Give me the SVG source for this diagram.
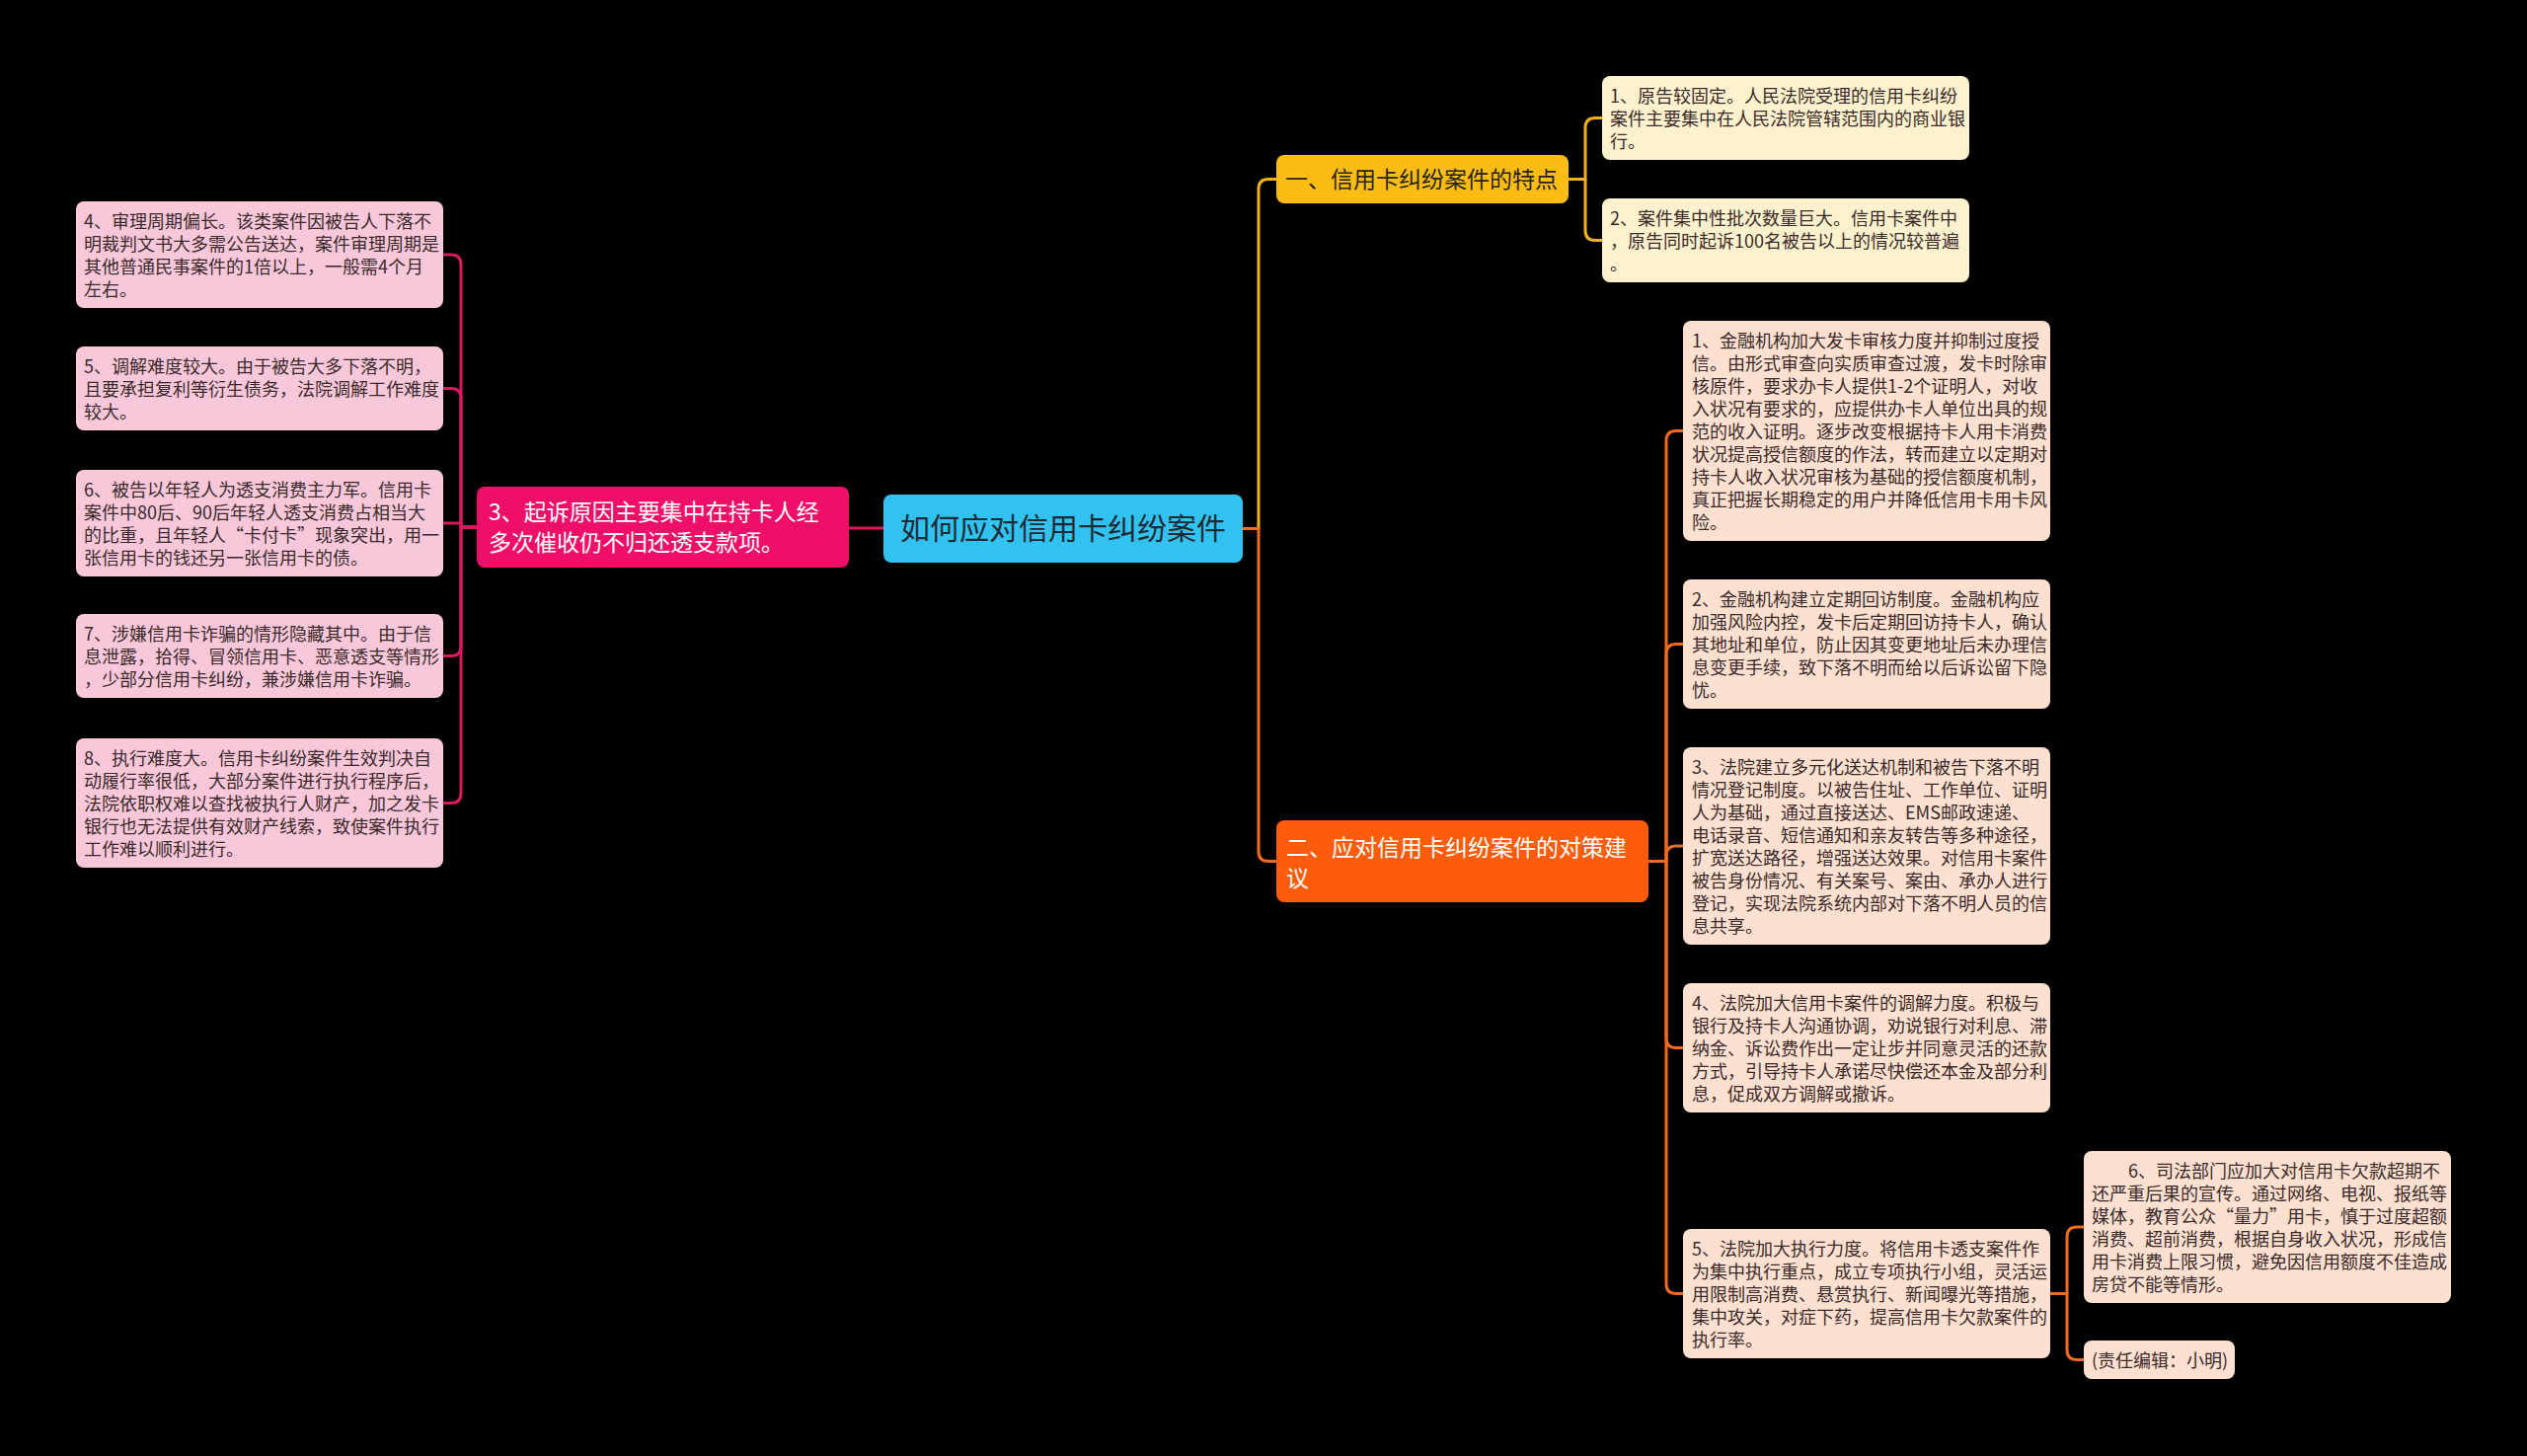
<svg xmlns="http://www.w3.org/2000/svg" width="2560" height="1475" viewBox="0 0 2560 1475">
<style>
.t{font-family:"Noto Sans CJK SC","Noto Sans",sans-serif;font-size:18px;fill:#3a2a2a}
.b{font-family:"Noto Sans CJK SC","Noto Sans",sans-serif;font-size:23px}
.c{fill:none;stroke-width:3;stroke-linecap:round;stroke-linejoin:round}
.cm{stroke:#d8185f}.cy{stroke:#f0b21a}.co{stroke:#f06a20}
.pink{fill:#f9c7da}.cream{fill:#fdf2cd}.peach{fill:#fde0cf}
</style>
<rect x="0" y="0" width="2560" height="1475" fill="#000"/>
<g id="connectors">
<path class="c cm" d="M895,535 H860"/>
<path class="c cm" d="M483,534 H467 V268 Q467,258 457,258 H449"/>
<path class="c cm" d="M483,534 H467 V403.5 Q467,393.5 457,393.5 H449"/>
<path class="c cm" d="M483,534 H467 V530 H449"/>
<path class="c cm" d="M483,534 H467 V654.5 Q467,664.5 457,664.5 H449"/>
<path class="c cm" d="M483,534 H467 V803.5 Q467,813.5 457,813.5 H449"/>
<path class="c cy" d="M1259,535.5 H1275 V191.5 Q1275,181.5 1285,181.5 H1293"/>
<path class="c co" d="M1259,535.5 H1275 V862.5 Q1275,872.5 1285,872.5 H1293"/>
<path class="c cy" d="M1589,181.5 H1606 V129.5 Q1606,119.5 1616,119.5 H1623"/>
<path class="c cy" d="M1589,181.5 H1606 V233.5 Q1606,243.5 1616,243.5 H1623"/>
<path class="c co" d="M1670,872.5 H1688 V446.5 Q1688,436.5 1698,436.5 H1705"/>
<path class="c co" d="M1670,872.5 H1688 V662.5 Q1688,652.5 1698,652.5 H1705"/>
<path class="c co" d="M1670,872.5 H1688 V867 Q1688,857 1698,857 H1705"/>
<path class="c co" d="M1670,872.5 H1688 V1051.5 Q1688,1061.5 1698,1061.5 H1705"/>
<path class="c co" d="M1670,872.5 H1688 V1300.5 Q1688,1310.5 1698,1310.5 H1705"/>
<path class="c co" d="M2077,1310.5 H2094 V1253 Q2094,1243 2104,1243 H2111"/>
<path class="c co" d="M2077,1310.5 H2094 V1367.5 Q2094,1377.5 2104,1377.5 H2111"/>
</g>
<g id="center">
<rect x="895" y="501" width="364" height="69" rx="8" fill="#31c2f0"/>
<text class="b" x="1077" y="546" text-anchor="middle" style="font-size:30px" fill="#1e2a35">如何应对信用卡纠纷案件</text>
</g>
<g id="n3">
<rect x="483" y="493" width="377" height="82" rx="8" fill="#ef0f68"/>
<text class="b" fill="#fff"><tspan x="495" y="527">3、起诉原因主要集中在持卡人经</tspan><tspan x="495" y="558">多次催收仍不归还透支款项。</tspan></text>
</g>
<g id="n4">
<rect class="pink" x="77" y="204" width="372" height="108" rx="8"/>
<text class="t"><tspan x="85" y="231">4、审理周期偏长。该类案件因被告人下落不</tspan><tspan x="85" y="254">明裁判文书大多需公告送达，案件审理周期是</tspan><tspan x="85" y="277">其他普通民事案件的1倍以上，一般需4个月</tspan><tspan x="85" y="300">左右。</tspan></text>
</g>
<g id="n5">
<rect class="pink" x="77" y="351" width="372" height="85" rx="8"/>
<text class="t"><tspan x="85" y="378">5、调解难度较大。由于被告大多下落不明，</tspan><tspan x="85" y="401">且要承担复利等衍生债务，法院调解工作难度</tspan><tspan x="85" y="424">较大。</tspan></text>
</g>
<g id="n6">
<rect class="pink" x="77" y="476" width="372" height="108" rx="8"/>
<text class="t"><tspan x="85" y="503">6、被告以年轻人为透支消费主力军。信用卡</tspan><tspan x="85" y="526">案件中80后、90后年轻人透支消费占相当大</tspan><tspan x="85" y="549">的比重，且年轻人“卡付卡”现象突出，用一</tspan><tspan x="85" y="572">张信用卡的钱还另一张信用卡的债。</tspan></text>
</g>
<g id="n7">
<rect class="pink" x="77" y="622" width="372" height="85" rx="8"/>
<text class="t"><tspan x="85" y="649">7、涉嫌信用卡诈骗的情形隐藏其中。由于信</tspan><tspan x="85" y="672">息泄露，拾得、冒领信用卡、恶意透支等情形</tspan><tspan x="85" y="695">，少部分信用卡纠纷，兼涉嫌信用卡诈骗。</tspan></text>
</g>
<g id="n8">
<rect class="pink" x="77" y="748" width="372" height="131" rx="8"/>
<text class="t"><tspan x="85" y="775">8、执行难度大。信用卡纠纷案件生效判决自</tspan><tspan x="85" y="798">动履行率很低，大部分案件进行执行程序后，</tspan><tspan x="85" y="821">法院依职权难以查找被执行人财产，加之发卡</tspan><tspan x="85" y="844">银行也无法提供有效财产线索，致使案件执行</tspan><tspan x="85" y="867">工作难以顺利进行。</tspan></text>
</g>
<g id="yellow">
<rect x="1293" y="157" width="296" height="49" rx="8" fill="#fbbd14"/>
<text class="b" x="1302" y="190" fill="#2a2418">一、信用卡纠纷案件的特点</text>
</g>
<g id="y1">
<rect class="cream" x="1623" y="77" width="372" height="85" rx="8"/>
<text class="t"><tspan x="1631" y="104">1、原告较固定。人民法院受理的信用卡纠纷</tspan><tspan x="1631" y="127">案件主要集中在人民法院管辖范围内的商业银</tspan><tspan x="1631" y="150">行。</tspan></text>
</g>
<g id="y2">
<rect class="cream" x="1623" y="201" width="372" height="85" rx="8"/>
<text class="t"><tspan x="1631" y="228">2、案件集中性批次数量巨大。信用卡案件中</tspan><tspan x="1631" y="251">，原告同时起诉100名被告以上的情况较普遍</tspan><tspan x="1631" y="274">。</tspan></text>
</g>
<g id="orange">
<rect x="1293" y="831" width="377" height="83" rx="8" fill="#fc5c0b"/>
<text class="b" fill="#fff"><tspan x="1303" y="867">二、应对信用卡纠纷案件的对策建</tspan><tspan x="1303" y="898">议</tspan></text>
</g>
<g id="r1">
<rect class="peach" x="1705" y="325" width="372" height="223" rx="8"/>
<text class="t"><tspan x="1714" y="352">1、金融机构加大发卡审核力度并抑制过度授</tspan><tspan x="1714" y="375">信。由形式审查向实质审查过渡，发卡时除审</tspan><tspan x="1714" y="398">核原件，要求办卡人提供1-2个证明人，对收</tspan><tspan x="1714" y="421">入状况有要求的，应提供办卡人单位出具的规</tspan><tspan x="1714" y="444">范的收入证明。逐步改变根据持卡人用卡消费</tspan><tspan x="1714" y="467">状况提高授信额度的作法，转而建立以定期对</tspan><tspan x="1714" y="490">持卡人收入状况审核为基础的授信额度机制，</tspan><tspan x="1714" y="513">真正把握长期稳定的用户并降低信用卡用卡风</tspan><tspan x="1714" y="536">险。</tspan></text>
</g>
<g id="r2">
<rect class="peach" x="1705" y="587" width="372" height="131" rx="8"/>
<text class="t"><tspan x="1714" y="614">2、金融机构建立定期回访制度。金融机构应</tspan><tspan x="1714" y="637">加强风险内控，发卡后定期回访持卡人，确认</tspan><tspan x="1714" y="660">其地址和单位，防止因其变更地址后未办理信</tspan><tspan x="1714" y="683">息变更手续，致下落不明而给以后诉讼留下隐</tspan><tspan x="1714" y="706">忧。</tspan></text>
</g>
<g id="r3">
<rect class="peach" x="1705" y="757" width="372" height="200" rx="8"/>
<text class="t"><tspan x="1714" y="784">3、法院建立多元化送达机制和被告下落不明</tspan><tspan x="1714" y="807">情况登记制度。以被告住址、工作单位、证明</tspan><tspan x="1714" y="830">人为基础，通过直接送达、EMS邮政速递、</tspan><tspan x="1714" y="853">电话录音、短信通知和亲友转告等多种途径，</tspan><tspan x="1714" y="876">扩宽送达路径，增强送达效果。对信用卡案件</tspan><tspan x="1714" y="899">被告身份情况、有关案号、案由、承办人进行</tspan><tspan x="1714" y="922">登记，实现法院系统内部对下落不明人员的信</tspan><tspan x="1714" y="945">息共享。</tspan></text>
</g>
<g id="r4">
<rect class="peach" x="1705" y="996" width="372" height="131" rx="8"/>
<text class="t"><tspan x="1714" y="1023">4、法院加大信用卡案件的调解力度。积极与</tspan><tspan x="1714" y="1046">银行及持卡人沟通协调，劝说银行对利息、滞</tspan><tspan x="1714" y="1069">纳金、诉讼费作出一定让步并同意灵活的还款</tspan><tspan x="1714" y="1092">方式，引导持卡人承诺尽快偿还本金及部分利</tspan><tspan x="1714" y="1115">息，促成双方调解或撤诉。</tspan></text>
</g>
<g id="r5">
<rect class="peach" x="1705" y="1245" width="372" height="131" rx="8"/>
<text class="t"><tspan x="1714" y="1272">5、法院加大执行力度。将信用卡透支案件作</tspan><tspan x="1714" y="1295">为集中执行重点，成立专项执行小组，灵活运</tspan><tspan x="1714" y="1318">用限制高消费、悬赏执行、新闻曝光等措施，</tspan><tspan x="1714" y="1341">集中攻关，对症下药，提高信用卡欠款案件的</tspan><tspan x="1714" y="1364">执行率。</tspan></text>
</g>
<g id="f1">
<rect class="peach" x="2111" y="1166" width="372" height="154" rx="8"/>
<text class="t"><tspan x="2156" y="1193">6、司法部门应加大对信用卡欠款超期不</tspan><tspan x="2119" y="1216">还严重后果的宣传。通过网络、电视、报纸等</tspan><tspan x="2119" y="1239">媒体，教育公众“量力”用卡，慎于过度超额</tspan><tspan x="2119" y="1262">消费、超前消费，根据自身收入状况，形成信</tspan><tspan x="2119" y="1285">用卡消费上限习惯，避免因信用额度不佳造成</tspan><tspan x="2119" y="1308">房贷不能等情形。</tspan></text>
</g>
<g id="f2">
<rect class="peach" x="2111" y="1358" width="153" height="39" rx="8"/>
<text class="t" x="2119" y="1385">(责任编辑：小明)</text>
</g>
</svg>
